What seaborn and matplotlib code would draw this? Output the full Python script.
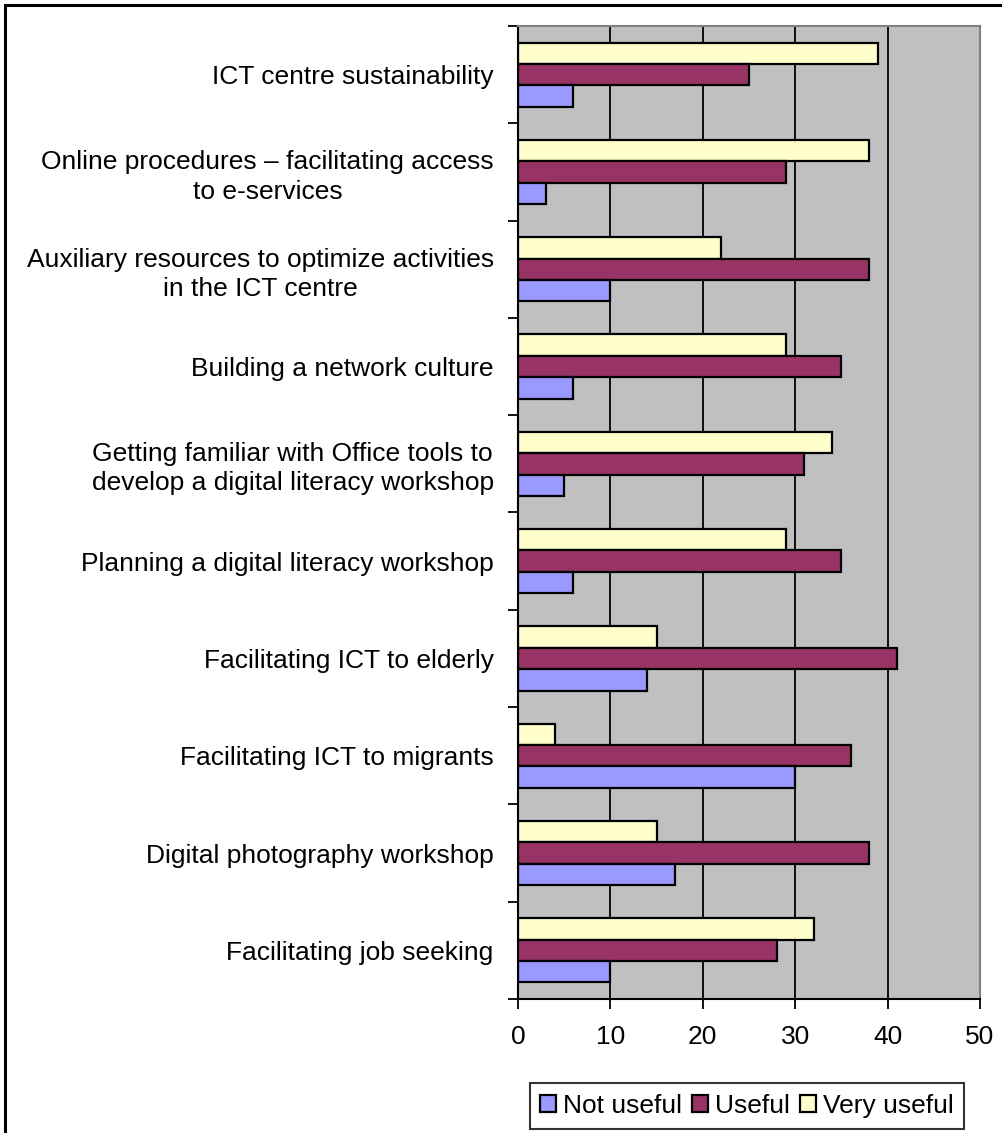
import matplotlib
matplotlib.use("Agg")
import matplotlib.pyplot as plt
import seaborn as sns
import pandas as pd
import numpy as np
from matplotlib.patches import Rectangle

items = [
    "ICT centre sustainability",
    "Online procedures \u2013 facilitating access\nto e-services",
    "Auxiliary resources to optimize activities\nin the ICT centre",
    "Building a network culture",
    "Getting familiar with Office tools to\ndevelop a digital literacy workshop",
    "Planning a digital literacy workshop",
    "Facilitating ICT to elderly",
    "Facilitating ICT to migrants",
    "Digital photography workshop",
    "Facilitating job seeking",
]
not_useful = [6, 3, 10, 6, 5, 6, 14, 30, 17, 10]
useful = [25, 29, 38, 35, 31, 35, 41, 36, 38, 28]
very_useful = [39, 38, 22, 29, 34, 29, 15, 4, 15, 32]

ratings = ["Not useful", "Useful", "Very useful"]
colors = {"Not useful": "#9999FF", "Useful": "#993366", "Very useful": "#FFFFCC"}

wide = pd.DataFrame({"item": items, "Not useful": not_useful,
                     "Useful": useful, "Very useful": very_useful})
df = wide.melt(id_vars="item", var_name="rating", value_name="count")

sns.set_style("white")
plt.rcParams["font.family"] = ["Liberation Sans", "DejaVu Sans"]
plt.rcParams["text.color"] = "black"
plt.rcParams["xtick.color"] = "black"
plt.rcParams["ytick.color"] = "black"

fs = 19

fig = plt.figure(figsize=(10.03, 11.33), dpi=100)
ax = fig.add_axes([518 / 1003, 1 - 999 / 1133, 462 / 1003, 973 / 1133])

# very useful on top inside each group
sns.barplot(data=df, x="count", y="item", hue="rating",
            hue_order=ratings[::-1], palette=colors, saturation=1,
            orient="h", width=0.66, edgecolor="black", linewidth=1.6,
            ax=ax)

ax.set_facecolor("#C0C0C0")
ax.set_xlim(0, 50)
ax.set_xticks(np.arange(0, 51, 10))
ax.set_axisbelow(True)
ax.grid(axis="x", color="black", linewidth=1.3)
ax.grid(axis="y", visible=False)
ax.set_xlabel("")
ax.set_ylabel("")

ax.set_yticks(np.arange(len(items)))
ax.set_yticklabels(items, fontsize=fs, multialignment="center",
                   linespacing=1.27)
ax.set_yticks(np.arange(len(items) + 1) - 0.5, minor=True)
ax.tick_params(axis="y", which="major", length=0, pad=17.5)
ax.tick_params(axis="y", which="minor", length=7, width=1.3,
               color="black", direction="out", left=True)
ax.tick_params(axis="x", length=7, width=1.3, color="black",
               direction="out", bottom=True, labelsize=fs, pad=12)
ax.set_ylim(len(items) - 0.5, -0.5)

for side in ["left", "bottom"]:
    ax.spines[side].set_color("black")
    ax.spines[side].set_linewidth(1.5)
for side in ["right", "top"]:
    ax.spines[side].set_color("#808080")
    ax.spines[side].set_linewidth(1.5)

handles, labels = ax.get_legend_handles_labels()
lookup = dict(zip(labels, handles))
ax.get_legend().remove()
leg = fig.legend([lookup[r] for r in ratings], ratings, loc="center",
                 bbox_to_anchor=(747 / 1003, 1 - 1106 / 1133), ncol=3,
                 fontsize=fs, frameon=True, fancybox=False,
                 edgecolor="black", handlelength=0.6, handleheight=0.6,
                 handletextpad=0.25, columnspacing=0.4, borderpad=0.4,
                 borderaxespad=0)
leg.get_frame().set_linewidth(1.5)

# outer chart frame (cut off at right and bottom)
fig.patches.append(Rectangle((5 / 1003, -0.2), 1.3, 1.2 - 5 / 1133,
                             transform=fig.transFigure, fill=False,
                             edgecolor="black", linewidth=2.2))

fig.savefig("out.png", dpi=100)
